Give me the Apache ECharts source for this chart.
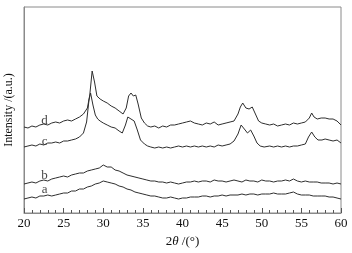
<!DOCTYPE html>
<html>
<head>
<meta charset="utf-8">
<script src="https://cdn.jsdelivr.net/npm/echarts@6/dist/echarts.min.js"></script>
<style>
html,body{margin:0;padding:0;background:#fff;}
#main{width:352px;height:253px;}
</style>
</head>
<body>
<div id="main"></div>
<script>
// 2theta positions (deg) and intensities (a.u., offset stacked)
var dX = [20,20.5,21,21.5,22,22.5,23,23.5,24,24.5,25,25.5,26,26.5,27,27.5,28,28.3,28.6,28.9,29.2,29.6,30,30.5,31,31.5,32,32.5,32.9,33.2,33.5,33.8,34.1,34.4,34.8,35.2,35.6,36,36.5,37,37.5,38,38.5,39,39.5,40,40.5,41,41.5,42,42.5,43,43.5,44,44.5,45,45.5,46,46.5,47,47.3,47.6,48,48.4,48.8,49.2,49.6,50,50.5,51,51.5,52,52.5,53,53.5,54,54.5,55,55.5,56,56.3,56.6,57,57.5,58,58.5,59,59.5,60];
var dY = [86,85,87,86,88,89,88,90,91,90,92,93,92,94,96,99,105,118,142,131,117,114,112,110,107,105,102,99,105,117,120,117,118,109,95,90,87,86,87,85,87,86,88,88,89,90,91,92,90,89,88,90,89,91,88,89,90,91,92,99,106,110,105,104,106,99,92,90,89,88,89,87,88,89,88,90,89,90,91,95,100,96,94,95,95,94,94,92,88];

var cX = [20,20.5,21,21.5,22,22.5,23,23.5,24,24.5,25,25.5,26,26.5,27,27.5,27.9,28.2,28.4,28.7,29,29.3,29.6,30,30.5,31,31.5,32,32.4,32.8,33.1,33.5,33.9,34.3,34.7,35.2,35.6,36,36.5,37,37.5,38,38.5,39,39.5,40,40.5,41,41.5,42,42.5,43,43.5,44,44.5,45,45.5,46,46.5,47,47.4,47.8,48.2,48.6,49,49.4,49.8,50.3,51,51.5,52,52.5,53,53.5,54,54.5,55,55.5,55.9,56.3,56.7,57.1,57.6,58,58.5,59,59.5,60];
var cY = [66,67,68,67,69,68,70,70,71,70,72,72,73,74,76,80,91,113,120,108,98,94,92,90,88,86,85,82,80,88,96,94,92,83,73,69,67,66,65,66,65,66,65,66,67,66,67,66,67,66,67,66,67,66,68,67,68,69,72,79,88,84,80,83,77,70,67,66,67,66,67,66,67,66,67,67,68,69,76,81,76,73,73,74,73,72,73,70];

var bX = [20,20.5,21,21.5,22,22.5,23,23.5,24,24.5,25,25.5,26,26.5,27,27.5,28,28.5,29,29.5,30,30.5,31,31.5,32,32.5,33,33.5,34,34.5,35,35.5,36,36.5,37,37.5,38,38.5,39,39.5,40,40.5,41,41.5,42,42.5,43,43.5,44,44.5,45,45.5,46,46.5,47,47.5,48,48.5,49,49.5,50,50.5,51,51.5,52,52.5,53,53.5,54,54.5,55,55.5,56,56.5,57,57.5,58,58.5,59,59.5,60];
var bY = [29,30,31,30,32,33,32,34,35,36,37,36,38,39,40,40,42,43,44,45,48,46,46,43,42,40,38,37,36,35,34,33,32,32,31,31,30,31,30,29,30,31,31,32,31,32,32,31,33,32,32,31,32,33,32,31,33,32,32,31,33,32,32,31,32,32,33,32,34,32,31,32,31,31,31,30,30,30,29,30,29];

var aX = [20,20.5,21,21.5,22,22.5,23,23.5,24,24.5,25,25.5,26,26.5,27,27.5,28,28.5,29,29.5,30,30.5,31,31.5,32,32.5,33,33.5,34,34.5,35,35.5,36,36.5,37,37.5,38,38.5,39,39.5,40,40.5,41,41.5,42,42.5,43,43.5,44,44.5,45,45.5,46,46.5,47,47.5,48,48.5,49,49.5,50,50.5,51,51.5,52,52.5,53,53.5,54,54.5,55,55.5,56,56.5,57,57.5,58,58.5,59,59.5,60];
var aY = [14,15,16,15,17,17,18,17,18,19,20,20,22,22,24,24,26,27,29,30,32,31,30,29,27,26,24,23,21,20,19,18,17,17,16,15,15,16,15,14,15,15,16,16,16,17,17,16,17,17,18,17,18,18,18,19,18,19,19,18,19,19,19,20,19,19,19,20,21,19,18,18,18,17,17,17,17,16,16,15,14];

var curveNames = ['a', 'b', 'c', 'd'];
var labelX = [22.6, 22.6, 22.6, 22.6];
var labelY = [23, 37, 71, 92];
var xTicks = [20, 25, 30, 35, 40, 45, 50, 55, 60];

function pairs(xs, ys) {
    var out = [];
    for (var i = 0; i < xs.length; i++) {
        out.push([xs[i], ys[i]]);
    }
    return out;
}

var lineStyle = {color: '#2e2e2e', width: 1};
var font = '"Liberation Serif", "Times New Roman", serif';

var labelData = [];
for (var i = 0; i < curveNames.length; i++) {
    labelData.push({value: [labelX[i], labelY[i]], name: curveNames[i]});
}

var myChart = echarts.init(document.getElementById('main'));
var option = {
    animation: false,
    backgroundColor: '#fff',
    grid: {
        left: 24, right: 11, top: 7, bottom: 40,
        outerBoundsMode: 'none',
        containLabel: false,
        show: true, borderColor: '#8a8a8a', borderWidth: 1
    },
    xAxis: {
        type: 'value',
        min: xTicks[0],
        max: xTicks[xTicks.length - 1],
        interval: 5,
        name: '2{i|θ} /(°)',
        nameLocation: 'middle',
        nameGap: 22,
        nameTextStyle: {
            fontFamily: font, fontSize: 13, color: '#111',
            rich: {i: {fontFamily: font, fontStyle: 'italic', fontSize: 13, color: '#111'}}
        },
        axisLine: {lineStyle: {color: '#8a8a8a'}},
        axisTick: {inside: true, length: 5, lineStyle: {color: '#555'}},
        minorTick: {show: true, splitNumber: 5, length: 3, lineStyle: {color: '#555'}},
        axisLabel: {fontFamily: font, fontSize: 13, color: '#111', margin: 4},
        splitLine: {show: false}
    },
    yAxis: {
        type: 'value',
        min: 0,
        max: 206,
        name: 'Intensity /(a.u.)',
        nameLocation: 'middle',
        nameGap: 9,
        nameRotate: 90,
        nameTextStyle: {fontFamily: font, fontSize: 12, color: '#111'},
        axisLine: {show: true, lineStyle: {color: '#8a8a8a'}},
        axisTick: {show: false},
        axisLabel: {show: false},
        splitLine: {show: false}
    },
    series: [
        {type: 'line', data: pairs(aX, aY), symbol: 'none', lineStyle: lineStyle},
        {type: 'line', data: pairs(bX, bY), symbol: 'none', lineStyle: lineStyle},
        {type: 'line', data: pairs(cX, cY), symbol: 'none', lineStyle: lineStyle},
        {type: 'line', data: pairs(dX, dY), symbol: 'none', lineStyle: lineStyle},
        {
            type: 'scatter',
            data: labelData,
            symbolSize: 0,
            label: {
                show: true,
                position: 'inside',
                formatter: '{b}',
                fontFamily: font,
                fontSize: 13,
                color: '#111'
            }
        }
    ]
};
myChart.setOption(option);
</script>
</body>
</html>
